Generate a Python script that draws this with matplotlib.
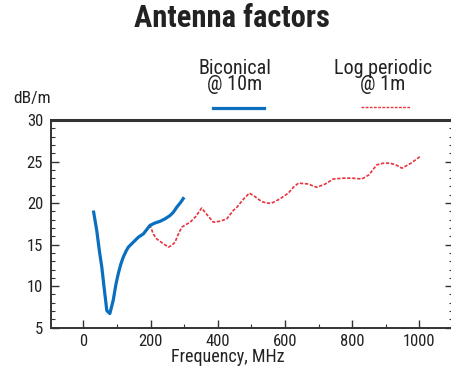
import matplotlib
matplotlib.use("Agg")
import matplotlib.pyplot as plt
from matplotlib.ticker import MultipleLocator
from matplotlib import font_manager as fm

_fonts = [(f.name, f.weight if isinstance(f.weight, int) else (700 if 'bold' in str(f.weight) else 400))
          for f in fm.fontManager.ttflist]


def pick(cands, weight):
    for c in cands:
        for n, w in _fonts:
            if n == c and abs(w - weight) <= 100:
                return c
    return 'DejaVu Sans'


reg = pick(['Roboto Condensed', 'Archivo Narrow', 'PT Sans Narrow', 'Liberation Sans Narrow',
            'Arimo'], 400)
bold = pick(['Roboto Condensed', 'Archivo Narrow', 'PT Sans Narrow', 'Liberation Sans Narrow',
             'Fjalla One', 'Oswald', 'Arimo'], 700)
plt.rcParams['font.family'] = [reg, 'DejaVu Sans']

title = "Antenna factors"
xlabel = "Frequency, MHz"
ylabel = "dB/m"
bicon_label = "Biconical\n@ 10m"
logp_label = "Log periodic\n@ 1m"

bicon_f = [30, 40, 48, 55, 62, 70, 79, 89, 97, 104, 112, 119, 127, 134, 149, 164, 179, 198, 213, 228, 243, 258, 268, 278, 290, 300]
bicon_v = [19.1, 16.7, 14.2, 12.3, 9.8, 7.05, 6.7, 8.3, 10.2, 11.5, 12.7, 13.5, 14.2, 14.7, 15.3, 15.9, 16.3, 17.3, 17.6, 17.8, 18.1, 18.5, 18.9, 19.5, 20.1, 20.7]

logp_f = [198, 208, 218, 235, 253, 263, 273, 283, 293, 305, 318, 335, 352, 368, 387, 405, 427, 446, 457, 475, 494, 510, 530, 545, 561, 585, 610, 625, 640, 668, 695, 720, 744, 774, 800, 829, 850, 873, 893, 913, 930, 948, 975, 1002]
logp_v = [17.4, 16.3, 15.7, 15.2, 14.7, 14.9, 15.3, 16.3, 17.1, 17.4, 17.7, 18.4, 19.4, 18.6, 17.7, 17.8, 18.1, 19.1, 19.5, 20.4, 21.2, 20.8, 20.2, 20.0, 20.0, 20.5, 21.2, 21.9, 22.4, 22.3, 21.9, 22.3, 22.9, 23.0, 23.0, 22.9, 23.4, 24.6, 24.8, 24.8, 24.6, 24.2, 24.8, 25.6]

xticks = [0, 200, 400, 600, 800, 1000]
yticks = [5, 10, 15, 20, 25, 30]

fig = plt.figure(figsize=(4.51, 3.71), dpi=100)
W, H = 451, 371
ax = fig.add_axes([50.7 / W, 1 - 327.7 / H, 402.3 / W, (327.7 - 120) / H])

blue = '#0a6fbf'
red = '#e8323c'
ax.plot(bicon_f, bicon_v, color=blue, lw=2.3, solid_capstyle='butt', zorder=3)
ax.plot(logp_f, logp_v, color=red, lw=1.2, linestyle=(0, (2.0, 1.0)), zorder=2)

ax.set_xlim(-97, 1100)
ax.set_ylim(5, 30)
ax.set_xticks(xticks)
ax.set_yticks(yticks)
ax.xaxis.set_minor_locator(MultipleLocator(100))
ax.yaxis.set_minor_locator(MultipleLocator(1))
dark = '#333333'
txtc = '#222222'
ax.tick_params(which='both', direction='in', right=True, top=False, colors=dark,
               labelcolor=txtc, labelsize=12)
ax.tick_params(which='major', length=6, width=1.0)
ax.tick_params(which='minor', length=3, width=0.8)
ax.tick_params(axis='y', pad=5.5)
ax.tick_params(axis='x', pad=4.5)
for s in ['left', 'bottom', 'top']:
    ax.spines[s].set_color(dark)
    ax.spines[s].set_linewidth(1.4)
ax.spines['top'].set_linewidth(2.2)
ax.spines['right'].set_visible(False)

fig.text(228 / W, 1 - 357 / H, xlabel, ha='center', va='center', fontsize=13, color=txtc)
fig.text(232 / W, 1 - 18 / H, title, ha='center', va='center', fontsize=22,
         fontweight='bold', color=txtc, family=[bold, 'DejaVu Sans'])
fig.text(32 / W, 1 - 99 / H, ylabel, ha='center', va='center', fontsize=12.5, color=txtc)
fig.text(235 / W, 1 - 77 / H, bicon_label, ha='center', va='center', fontsize=14.5,
         color=txtc, linespacing=0.8)
fig.text(383 / W, 1 - 77 / H, logp_label, ha='center', va='center', fontsize=14.5,
         color=txtc, linespacing=0.8)
fig.add_artist(plt.Line2D([213 / W, 264 / W], [1 - 107.5 / H, 1 - 107.5 / H], color=blue, lw=2.3))
fig.add_artist(plt.Line2D([361 / W, 410 / W], [1 - 106.5 / H, 1 - 106.5 / H], color=red, lw=1.0,
                          linestyle=(0, (2.0, 1.0))))

fig.savefig('out.png', dpi=100)
